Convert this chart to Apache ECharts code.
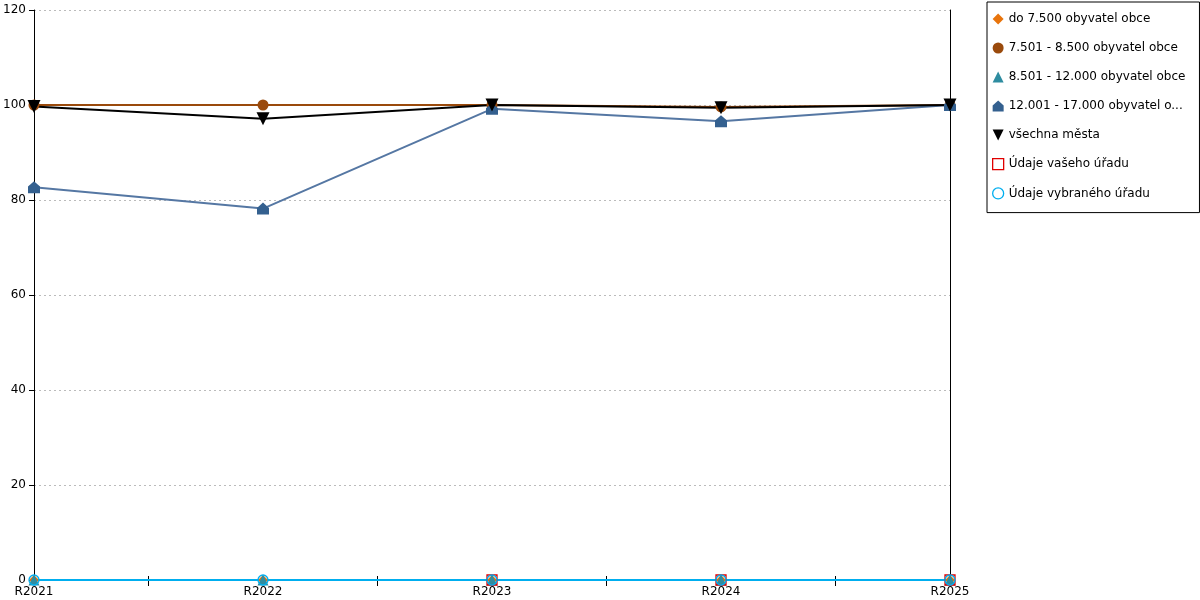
<!DOCTYPE html>
<html><head><meta charset="utf-8">
<script src="https://cdn.jsdelivr.net/npm/echarts@6/dist/echarts.min.js"></script>
<style>html,body{margin:0;padding:0;background:#fff}#c{width:1200px;height:600px}</style>
</head><body><div id="c"></div>
<script>
var categories = ['R2021','R2022','R2023','R2024','R2025'];
var yTicks = [0,20,40,60,80,100,120];
var names = ['do 7.500 obyvatel obce','7.501 - 8.500 obyvatel obce','8.501 - 12.000 obyvatel obce','12.001 - 17.000 obyvatel obce','všechna města','Údaje vašeho úřadu','Údaje vybraného úřadu'];
var sDo7500 = [0,0,0,0,0];
var s7501 = [100,100,100,99.6,100];
var s8501 = [0,0,0,0,0];
var s12001 = [82.7,78.2,99.2,96.6,100];
var sVsechna = [99.7,97.1,100,99.4,100];
var sVaseho = [null,null,0,0,0];
var sVybraneho = [0,0,0,0,0];

var house = 'path://M5,0 L10,4.5 L10,10 L0,10 L0,4.5 Z';
var downTri = 'path://M0,0 L10,0 L5,10 Z';
var font = 'DejaVu Sans';
var lines = [], marks = [];
function mk(name, data, color, symbol, size, lineColor, hollow){
  lines.push({
    name: name, type:'line', data:data, z:2,
    symbol:'none', connectNulls:false,
    lineStyle:{color: lineColor||color, width:2},
    itemStyle:{color:color},
    emphasis:{disabled:true}, animation:false, silent:true
  });
  marks.push({
    name: name, type:'scatter', data:data, z:3,
    symbol: symbol, symbolSize: size,
    itemStyle: hollow ? {color:'rgba(0,0,0,0)', borderColor:color, borderWidth:1.3, opacity:1} : {color:color, borderWidth:0, opacity:1},
    emphasis:{disabled:true}, animation:false, silent:true
  });
}
mk(names[0], sDo7500, '#e8740c', 'diamond', 10);
mk(names[1], s7501, '#9a4a0c', 'circle', 11);
mk(names[2], s8501, '#2e8ca0', 'triangle', 11);
mk(names[3], s12001, '#34608f', house, 12, '#5577a3');
mk(names[4], sVsechna, '#000000', downTri, 13);
mk(names[5], sVaseho, '#e00000', 'rect', 10, '#e00000', true);
mk(names[6], sVybraneho, '#00aeef', 'circle', 10, '#00aeef', true);

var chart = echarts.init(document.getElementById('c'), null, {renderer:'canvas'});
chart.setOption({
  animation:false,
  grid:{left:34, right:250, top:10, bottom:20, containLabel:false},
  legend:{
    orient:'vertical', left:987, top:2,
    padding:[11,14,13,5], itemGap:17, itemWidth:11, itemHeight:11,
    borderColor:'#000', borderWidth:1,
    textStyle:{fontFamily:font, fontSize:12, color:'#000', width:182, overflow:'truncate', ellipsis:'...'},
    data:[
      {name:names[0], icon:'diamond', itemStyle:{color:'#e8740c'}},
      {name:names[1], icon:'circle', itemStyle:{color:'#9a4a0c'}},
      {name:names[2], icon:'triangle', itemStyle:{color:'#2e8ca0'}},
      {name:names[3], icon:house, itemStyle:{color:'#34608f'}},
      {name:names[4], icon:downTri, itemStyle:{color:'#000'}},
      {name:names[5], icon:'rect', itemStyle:{color:'#fff', borderColor:'#e00000', borderWidth:1.3}},
      {name:names[6], icon:'circle', itemStyle:{color:'#fff', borderColor:'#00aeef', borderWidth:1.3}}
    ]
  },
  xAxis:[
    {type:'category', data:categories, boundaryGap:false,
     axisLine:{show:true, lineStyle:{color:'#000'}}, axisTick:{show:false},
     axisLabel:{fontFamily:font, fontSize:12, color:'#000', margin:6, interval:0}, splitLine:{show:false}},
    {type:'category', data:['a','b','c','d'], boundaryGap:true, position:'bottom',
     axisLine:{show:false}, axisTick:{show:true, alignWithLabel:true, length:6, lineStyle:{color:'#000'}},
     axisLabel:{show:false}, splitLine:{show:false}},
    {type:'category', data:['a','b','c','d'], boundaryGap:true, position:'bottom',
     axisLine:{show:false}, axisTick:{show:true, inside:true, alignWithLabel:true, length:4, lineStyle:{color:'#000'}},
     axisLabel:{show:false}, splitLine:{show:false}}
  ],
  yAxis:[
    {type:'value', min:0, max:120, interval:20,
     axisLine:{show:true, lineStyle:{color:'#000'}}, axisTick:{show:true, length:5, lineStyle:{color:'#000'}},
     axisLabel:{fontFamily:font, fontSize:12, color:'#000', margin:8,
       formatter:function(v){return yTicks.indexOf(v)>=0?String(v):'';}},
     splitLine:{show:true, lineStyle:{color:'#bbb', type:[2,3], width:1}}},
    {type:'value', min:0, max:120, interval:20, position:'right',
     axisLine:{show:true, lineStyle:{color:'#000'}}, axisTick:{show:false}, axisLabel:{show:false}, splitLine:{show:false}}
  ],
  series: lines.concat(marks)
});
</script></body></html>
